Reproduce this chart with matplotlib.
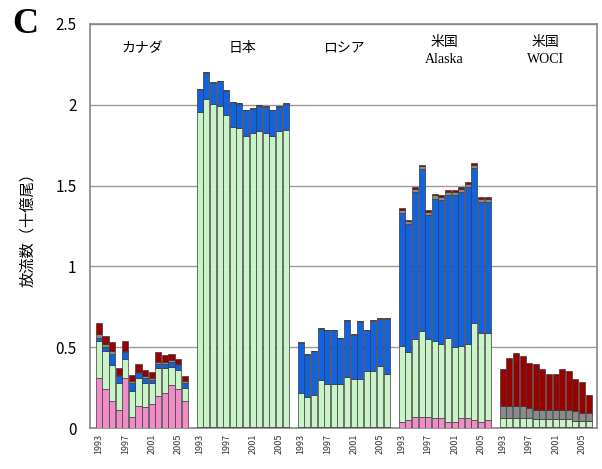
import numpy as np
import matplotlib
matplotlib.use("Agg")
import matplotlib.pyplot as plt

plt.rcParams['font.family'] = ['Noto Sans CJK JP', 'DejaVu Sans']

# release numbers (billions), 1993-2006, per region
years = list(range(1993, 2007))
regions = ["カナダ", "日本", "ロシア", "米国\nAlaska", "米国\nWOCI"]
layer_colors = ["#f08cc8", "#c8f4c8", "#1062e0", "#8a8a8a", "#990000"]

canada_pink = [0.31, 0.24, 0.17, 0.11, 0.31, 0.07, 0.14, 0.13, 0.15, 0.20, 0.22, 0.27, 0.24, 0.17]
canada_green = [0.23, 0.24, 0.22, 0.17, 0.12, 0.16, 0.17, 0.15, 0.13, 0.17, 0.15, 0.11, 0.12, 0.08]
canada_blue = [0.02, 0.02, 0.07, 0.04, 0.04, 0.05, 0.03, 0.03, 0.02, 0.03, 0.03, 0.03, 0.03, 0.03]
canada_gray = [0.02, 0.02, 0.02, 0.01, 0.01, 0.01, 0.01, 0.01, 0.01, 0.01, 0.01, 0.01, 0.01, 0.01]
canada_red = [0.07, 0.05, 0.05, 0.04, 0.06, 0.04, 0.05, 0.04, 0.04, 0.06, 0.04, 0.04, 0.03, 0.03]

japan_pink = [0.005] * 14
japan_green = [1.95, 2.03, 2.00, 1.99, 1.93, 1.86, 1.85, 1.80, 1.82, 1.83, 1.82, 1.80, 1.83, 1.84]
japan_blue = [0.14, 0.16, 0.13, 0.15, 0.15, 0.15, 0.15, 0.16, 0.15, 0.16, 0.16, 0.16, 0.15, 0.16]
japan_gray = [0.005] * 14
japan_red = [0.0] * 14

russia_pink = [0.005] * 14
russia_green = [0.21, 0.19, 0.20, 0.29, 0.27, 0.27, 0.27, 0.31, 0.30, 0.30, 0.35, 0.35, 0.38, 0.33]
russia_blue = [0.31, 0.26, 0.27, 0.32, 0.33, 0.33, 0.28, 0.35, 0.27, 0.35, 0.25, 0.31, 0.29, 0.34]
russia_gray = [0.005] * 14
russia_red = [0.0] * 14

alaska_pink = [0.04, 0.05, 0.07, 0.07, 0.07, 0.06, 0.06, 0.04, 0.04, 0.06, 0.06, 0.05, 0.04, 0.05]
alaska_green = [0.47, 0.42, 0.48, 0.53, 0.48, 0.48, 0.46, 0.52, 0.46, 0.45, 0.46, 0.60, 0.55, 0.54]
alaska_blue = [0.82, 0.79, 0.91, 1.00, 0.77, 0.88, 0.89, 0.88, 0.94, 0.95, 0.97, 0.96, 0.81, 0.81]
alaska_gray = [0.02] * 14
alaska_red = [0.01] * 14

woci_pink = [0.005] * 14
woci_green = [0.06, 0.06, 0.06, 0.06, 0.06, 0.05, 0.05, 0.05, 0.05, 0.05, 0.05, 0.04, 0.04, 0.04]
woci_blue = [0.0] * 14
woci_gray = [0.07, 0.07, 0.07, 0.07, 0.06, 0.06, 0.06, 0.06, 0.06, 0.06, 0.06, 0.06, 0.05, 0.05]
woci_red = [0.23, 0.30, 0.33, 0.31, 0.28, 0.28, 0.25, 0.22, 0.22, 0.25, 0.24, 0.20, 0.19, 0.11]

data = [
    [canada_pink, canada_green, canada_blue, canada_gray, canada_red],
    [japan_pink, japan_green, japan_blue, japan_gray, japan_red],
    [russia_pink, russia_green, russia_blue, russia_gray, russia_red],
    [alaska_pink, alaska_green, alaska_blue, alaska_gray, alaska_red],
    [woci_pink, woci_green, woci_blue, woci_gray, woci_red],
]

fig = plt.figure(figsize=(6.02, 4.69), dpi=100)
ax = fig.add_axes([0.150, 0.087, 0.842, 0.862])

step = 15.3
tick_pos, tick_lab = [], []
for g, layers in enumerate(data):
    x = g * step + np.arange(len(years))
    bottom = np.zeros(len(years))
    for vals, col in zip(layers, layer_colors):
        ax.bar(x, vals, bottom=bottom, width=0.92, color=col,
               edgecolor="#3a3a3a", linewidth=0.5, zorder=3)
        bottom += np.array(vals)
    for i, yr in enumerate(years):
        if (yr - 1993) % 4 == 0:
            tick_pos.append(x[i])
            tick_lab.append(str(yr))
    cx = g * step + 6.5
    if "\n" in regions[g]:
        jp, en = regions[g].split("\n")
        ax.text(cx, 2.39, jp, ha="center", va="center", fontsize=10)
        ax.text(cx, 2.28, en, ha="center", va="center", fontsize=10,
                family="Liberation Serif")
    else:
        ax.text(cx, 2.35, regions[g], ha="center", va="center", fontsize=10)

ax.set_xlim(-1.3, 75.5)
ax.set_ylim(0, 2.5)
ax.set_yticks([0, 0.5, 1, 1.5, 2, 2.5])
ax.set_yticklabels(["0", "0.5", "1", "1.5", "2", "2.5"], fontsize=11)
ax.set_xticks(tick_pos)
ax.set_xticklabels(tick_lab, rotation=90, fontsize=6.5, color="#333333")
ax.tick_params(axis="x", length=0, pad=4)
ax.tick_params(axis="y", length=0, pad=10)
ax.grid(axis="y", color="#999999", linewidth=1, zorder=0)
for s in ax.spines.values():
    s.set_color("#888888")
    s.set_linewidth(1.2)

ax.set_ylabel("放流数（十億尾）", fontsize=11, labelpad=14)
fig.text(0.02, 0.93, "C", fontsize=26, fontweight="bold", family="Liberation Serif")

fig.savefig("out.png", dpi=100)
